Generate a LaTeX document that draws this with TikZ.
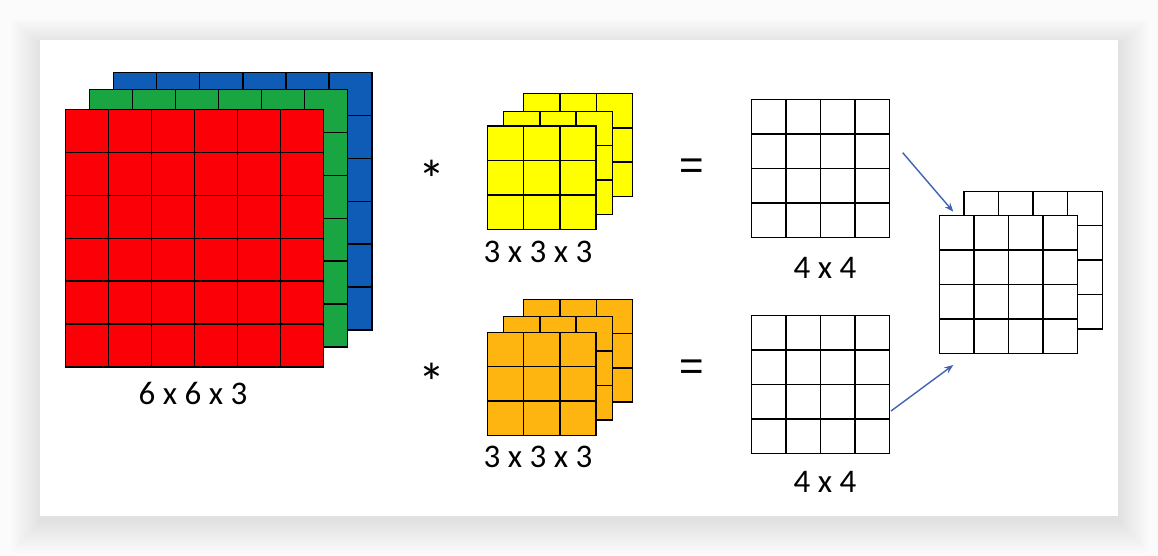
\documentclass[tikz,border=0pt]{standalone}
\usepackage{fontspec}
\setmainfont{Carlito}
\newfontfamily\eqfont{Liberation Sans}
\usetikzlibrary{arrows.meta}
\definecolor{cred}{HTML}{FB0006}
\definecolor{cgreen}{HTML}{19A542}
\definecolor{cblue}{HTML}{0E5CB6}
\definecolor{cyellow}{HTML}{FFFF00}
\definecolor{corange}{HTML}{FFB50F}
\definecolor{carrow}{HTML}{3F63B5}
\tikzset{
  layer/.style={draw=black, line width=1.5pt, inner sep=0pt, outer sep=0pt, anchor=north west},
  gridline/.style={draw=black, line width=1.5pt},
  lbl/.style={inner sep=0pt, font=\fontsize{33}{33}\selectfont},
  opsym/.style={inner sep=0pt, anchor=base, font=\fontsize{54}{54}\selectfont},
  eqsym/.style={inner sep=0pt, font=\eqfont\fontsize{42}{42}\selectfont},
  arr/.style={draw=carrow, line width=1.4pt, -{Stealth[length=9pt,width=7pt]}}
}
% name, left, top, width, height, n, fill
\newcommand{\gridlayer}[7]{%
  \node[layer, fill=#7, minimum width=#4pt, minimum height=#5pt] (#1) at (#2,#3) {};
  \foreach \i in {1,...,\numexpr#6-1\relax} {
    \draw[gridline] ({#2+\i*#4/#6},#3) -- ++(0,#5);
    \draw[gridline] (#2,{#3+\i*#5/#6}) -- ++(#4,0);
  }
}
\begin{document}
\begin{tikzpicture}[x=1pt,y=-1pt]
\useasboundingbox (0,0) rectangle (1158,556);
\fill[white!98.5!black] (0,0) rectangle (1158,556);
% card shadow
\foreach \k in {1,...,26} {
  \fill[black, opacity=0.004] ({40-\k*1.2+2},{40-\k*1.0+5}) rectangle ({1118+\k*1.2},{516+\k*1.3+4});
}
\fill[white] (40,40) rectangle (1118,516);

% input 6x6x3
\gridlayer{inB}{113.5}{72.5}{258.5}{257.5}{6}{cblue}
\gridlayer{inG}{89.5}{89.5}{258}{257.5}{6}{cgreen}
\gridlayer{inR}{65.5}{109.5}{258}{257.5}{6}{cred}
\node[lbl] (tin) at (193,393) {6 x 6 x 3};

% kernel 1 (yellow)
\gridlayer{kAb}{523.7}{93.3}{109}{103.4}{3}{cyellow}
\gridlayer{kAm}{503.7}{111.3}{108.6}{103}{3}{cyellow}
\gridlayer{kAf}{487.3}{126}{108.7}{103.3}{3}{cyellow}
\node[lbl] (tkA) at (538,252) {3 x 3 x 3};

% kernel 2 (orange)
\gridlayer{kBb}{523.7}{299.3}{109}{102.7}{3}{corange}
\gridlayer{kBm}{503.7}{316.7}{108.6}{103.3}{3}{corange}
\gridlayer{kBf}{487.3}{332.3}{108.7}{103}{3}{corange}
\node[lbl] (tkB) at (538,457) {3 x 3 x 3};

% operators
\node[opsym] (star1) at (432,198) {*};
\node[opsym] (star2) at (432,401) {*};
\node[eqsym] (eq1) at (692,169) {=};
\node[eqsym] (eq2) at (692,370) {=};

% outputs 4x4
\gridlayer{oA}{751.3}{99.3}{138}{138}{4}{white}
\node[lbl] (toA) at (825,268) {4 x 4};
\gridlayer{oB}{751.3}{315.3}{138}{138}{4}{white}
\node[lbl] (toB) at (825,482) {4 x 4};

% stacked output
\gridlayer{sB}{964}{191.3}{138.3}{137.7}{4}{white}
\gridlayer{sF}{939.3}{215.3}{138.4}{138}{4}{white}

% arrows
\coordinate (a1s) at (902.7,152.7);
\coordinate (a1e) at (953.3,211.7);
\coordinate (a2s) at (891,411);
\coordinate (a2e) at (953.3,365);
\draw[arr] (a1s) -- (a1e);
\draw[arr] (a2s) -- (a2e);
\end{tikzpicture}
\end{document}
